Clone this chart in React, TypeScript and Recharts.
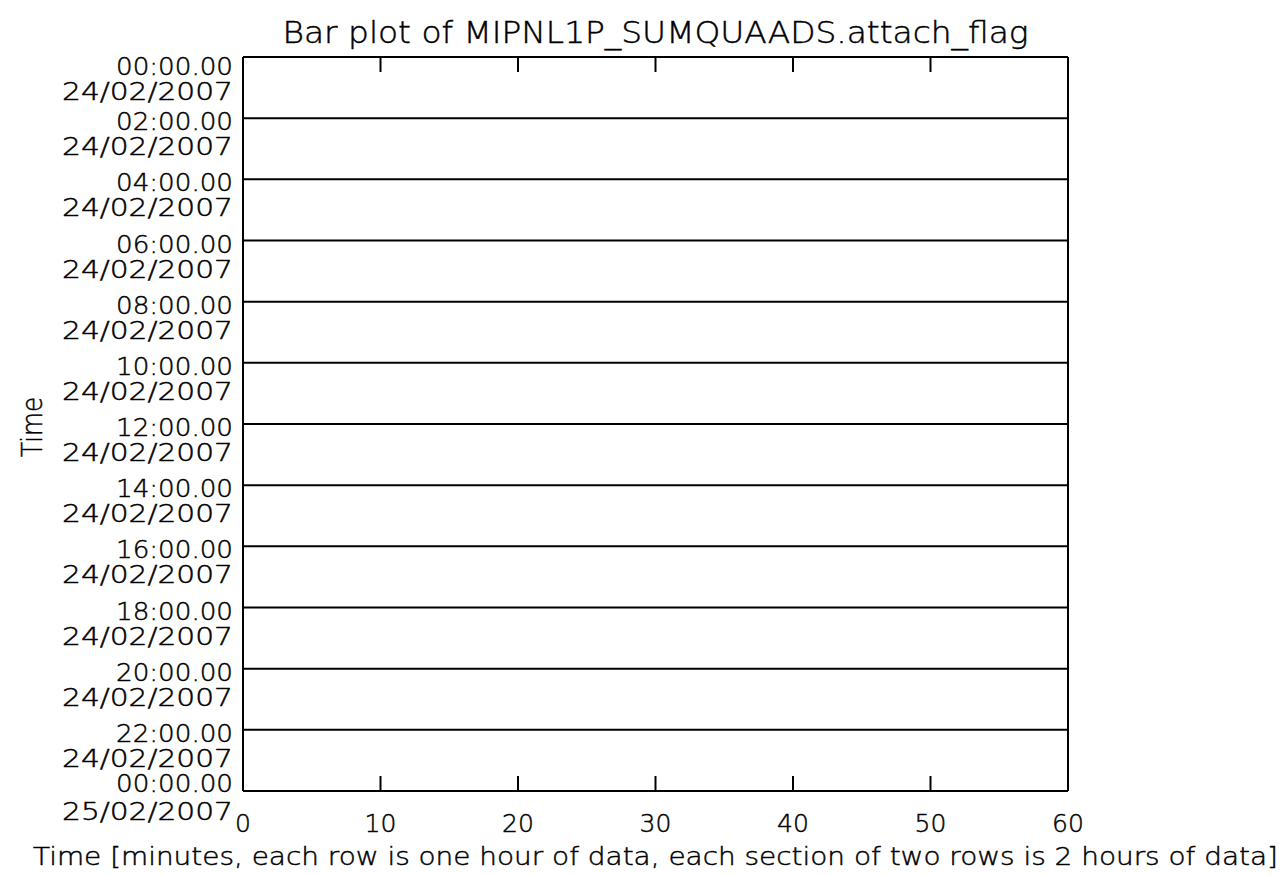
import React from "react";
import { ComposedChart, XAxis, YAxis, CartesianGrid } from "recharts";

// ---- data ----
const chartTitle = "Bar plot of MIPNL1P_SUMQUAADS.attach_flag";
const xAxisTitle =
  "Time [minutes, each row is one hour of data, each section of two rows is 2 hours of data]";
const yAxisTitle = "Time";

const minuteTicks = [0, 10, 20, 30, 40, 50, 60];
const hourTicks = [0, 2, 4, 6, 8, 10, 12, 14, 16, 18, 20, 22, 24];
const timeLabels = [
  "00:00.00",
  "02:00.00",
  "04:00.00",
  "06:00.00",
  "08:00.00",
  "10:00.00",
  "12:00.00",
  "14:00.00",
  "16:00.00",
  "18:00.00",
  "20:00.00",
  "22:00.00",
  "00:00.00",
];
const dateLabels = [
  "24/02/2007",
  "24/02/2007",
  "24/02/2007",
  "24/02/2007",
  "24/02/2007",
  "24/02/2007",
  "24/02/2007",
  "24/02/2007",
  "24/02/2007",
  "24/02/2007",
  "24/02/2007",
  "24/02/2007",
  "25/02/2007",
];
// attach_flag bars: none are set in this period, so nothing is drawn
const attachFlagBars: { minute: number; hour: number }[] = [];

// section rows of the time grid (each starts at minute 0)
const gridRows = hourTicks.map((h) => ({ hour: h, minute: 0 }));

const FONT = "'DejaVu Sans', sans-serif";
const textStyle = {
  fontFamily: FONT,
  fontWeight: 200,
  fill: "#000",
  stroke: "#000",
  strokeWidth: 0.45,
} as const;

const YTick = (props: any) => {
  const { x, y, payload } = props;
  const i = hourTicks.indexOf(payload.value);
  const last = hourTicks.length - 1;
  const timeDy = i === 0 ? 18 : i === last ? 1 : 12;
  const dateDy = i === 0 ? 43 : i === last ? 29 : 37;
  return (
    <g>
      <text
        x={x}
        y={y + timeDy}
        textAnchor="end"
        fontSize={24}
        textLength={117}
        lengthAdjust="spacingAndGlyphs"
        style={textStyle}
      >
        {timeLabels[i]}
      </text>
      <text
        x={x}
        y={y + dateDy}
        textAnchor="end"
        fontSize={24}
        textLength={171}
        lengthAdjust="spacingAndGlyphs"
        style={textStyle}
      >
        {dateLabels[i]}
      </text>
    </g>
  );
};

const XTick = (props: any) => {
  const { x, y, payload } = props;
  return (
    <text x={x} y={y + 41} textAnchor="middle" fontSize={25} style={textStyle}>
      {String(payload.value)}
    </text>
  );
};

const NoTick = () => <g />;

export default function App() {
  return (
    <div style={{ position: "absolute", left: 0, top: 0, background: "#fff" }}>
      <ComposedChart
        width={1284}
        height={875}
        data={attachFlagBars.length ? attachFlagBars : gridRows}
        margin={{ top: 47, right: 206, bottom: 0, left: 0 }}
      >
        <CartesianGrid
          vertical={false}
          horizontal={true}
          stroke="#000"
          strokeWidth={2}
        />
        <XAxis
          xAxisId={0}
          type="number"
          dataKey="minute"
          orientation="bottom"
          domain={[0, 60]}
          allowDataOverflow
          ticks={minuteTicks}
          interval={0}
          height={84}
          tickSize={-15}
          tickMargin={15}
          tick={<XTick />}
          axisLine={{ stroke: "#000", strokeWidth: 2 }}
          tickLine={{ stroke: "#000", strokeWidth: 2 }}
          label={{
            content: (p: any) => {
              const vb = p.viewBox;
              return (
                <text
                  x={vb.x + vb.width / 2}
                  y={vb.y + 74}
                  textAnchor="middle"
                  fontSize={25}
                  textLength={1245}
                  lengthAdjust="spacingAndGlyphs"
                  style={textStyle}
                >
                  {xAxisTitle}
                </text>
              );
            },
          }}
        />
        <XAxis
          xAxisId="top"
          type="number"
          dataKey="minute"
          orientation="top"
          domain={[0, 60]}
          allowDataOverflow
          ticks={minuteTicks}
          interval={0}
          height={10}
          tickSize={-15}
          tick={<NoTick />}
          axisLine={{ stroke: "#000", strokeWidth: 2 }}
          tickLine={{ stroke: "#000", strokeWidth: 2 }}
          label={{
            content: (p: any) => {
              const vb = p.viewBox;
              return (
                <text
                  x={vb.x + vb.width / 2}
                  y={43}
                  textAnchor="middle"
                  fontSize={30}
                  textLength={746}
                  lengthAdjust="spacingAndGlyphs"
                  style={textStyle}
                >
                  {chartTitle}
                </text>
              );
            },
          }}
        />
        <YAxis
          yAxisId={0}
          type="number"
          dataKey="hour"
          orientation="left"
          domain={[0, 24]}
          allowDataOverflow
          reversed
          ticks={hourTicks}
          interval={0}
          width={243}
          tickLine={false}
          tickSize={0}
          tickMargin={10}
          tick={<YTick />}
          axisLine={{ stroke: "#000", strokeWidth: 2 }}
          label={{
            content: (p: any) => {
              const vb = p.viewBox;
              const cx = 42;
              const cy = vb.y + vb.height / 2 + 3;
              return (
                <text
                  x={cx}
                  y={cy}
                  textAnchor="middle"
                  fontSize={28}
                  textLength={60}
                  lengthAdjust="spacingAndGlyphs"
                  transform={`rotate(-90, ${cx}, ${cy})`}
                  style={textStyle}
                >
                  {yAxisTitle}
                </text>
              );
            },
          }}
        />
        <YAxis
          yAxisId="right"
          type="number"
          dataKey="hour"
          orientation="right"
          domain={[0, 24]}
          allowDataOverflow
          reversed
          width={10}
          tick={false}
          tickLine={false}
          axisLine={{ stroke: "#000", strokeWidth: 2 }}
        />
      </ComposedChart>
    </div>
  );
}
